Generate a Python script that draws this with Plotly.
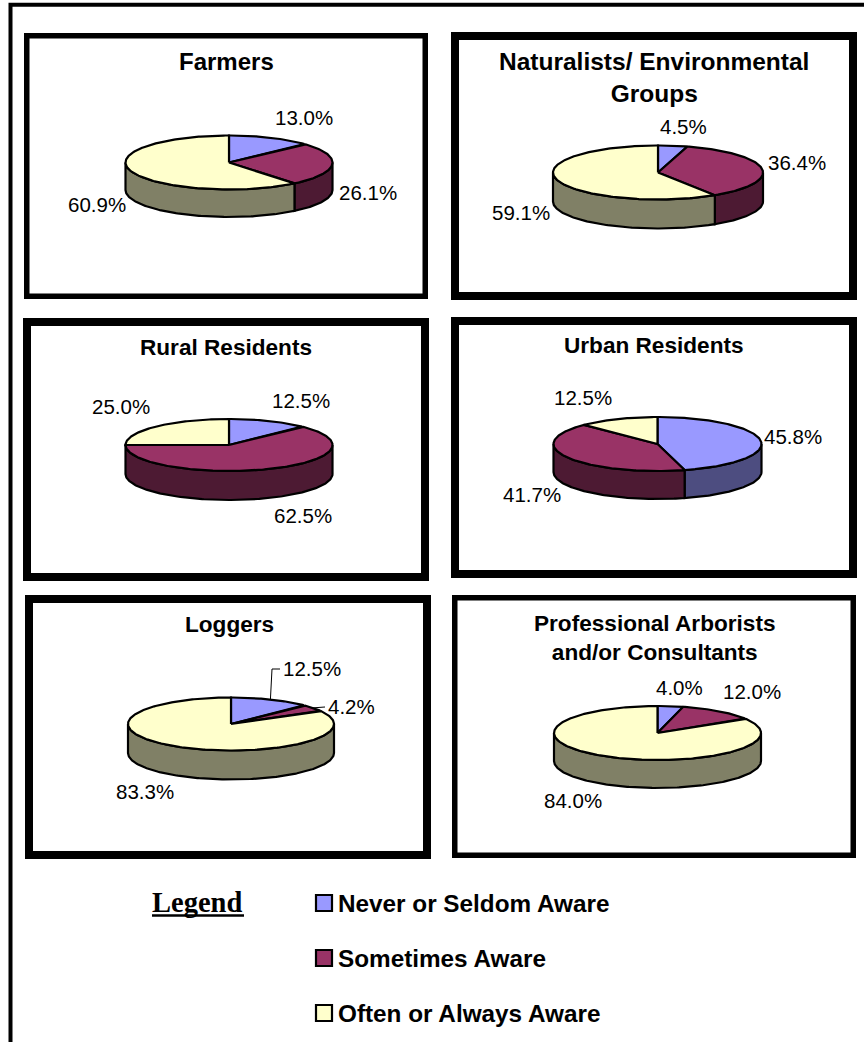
import numpy as np
import plotly.graph_objects as go

# awareness shares per group, in legend order
categories = ["Never or Seldom Aware", "Sometimes Aware", "Often or Always Aware"]
farmers = [13.0, 26.1, 60.9]
naturalists = [4.5, 36.4, 59.1]
rural = [12.5, 62.5, 25.0]
urban = [45.8, 41.7, 12.5]
loggers = [12.5, 4.2, 83.3]
arborists = [4.0, 12.0, 84.0]
titles = ["Farmers", "Naturalists/ Environmental<br>Groups", "Rural Residents",
          "Urban Residents", "Loggers", "Professional Arborists<br>and/or Consultants"]
series = [farmers, naturalists, rural, urban, loggers, arborists]

top_colors = ["#9999FF", "#993366", "#FFFFCC"]
side_colors = ["#4D4D80", "#4D1A33", "#808066"]
FONT = "Liberation Sans"

# page layout, in pixels
frames = [(24, 33, 428, 299, 5.5), (451, 32, 857, 300, 8), (23, 318, 429, 581, 8),
          (451, 317, 857, 578, 8), (25, 595, 431, 859, 8), (452, 595, 856, 858, 5.5)]
pies = [(229, 162.5, 103.5, 27, 27.5), (658, 172.5, 105, 27, 29), (229, 445, 103.5, 26, 29),
        (657.5, 444, 104, 27, 28), (231, 724, 103, 26.5, 29), (657.5, 733, 103.5, 27, 28)]
title_pos = [(226, 61.5, 24), (654, 77.5, 24.5), (226, 347, 22.6), (654, 345, 22.6), (229, 624, 22.6), (654, 638, 22.6)]
label_pos = [[(304, 117), (368, 192), (97, 204)],
             [(683, 126), (797, 162), (521, 212)],
             [(301, 400), (303, 515), (121, 406)],
             [(793, 436), (532, 494), (583, 397)],
             [(312, 668), (351, 706), (145, 791)],
             [(679, 687), (752, 691), (573, 800)]]


def arc(cx, cy, rx, ry, a0, a1):
    # angles are degrees clockwise from the top of the ellipse
    t = np.radians(np.linspace(a0, a1, max(int(abs(a1 - a0)), 2) + 1))
    return cx + rx * np.sin(t), cy - ry * np.cos(t)


fig = go.Figure()


def add_poly(xs, ys, color):
    fig.add_trace(go.Scatter(x=xs, y=ys, mode="lines", fill="toself", fillcolor=color,
                             line=dict(color="black", width=2.2), hoverinfo="skip"))


for values, (cx, cy, rx, ry, depth) in zip(series, pies):
    edges = np.cumsum([0] + values) * 3.6
    # side walls first, only the front half of the rim shows
    for i in range(3):
        a0, a1 = max(edges[i], 90), min(edges[i + 1], 270)
        if a1 > a0:
            ax, ay = arc(cx, cy, rx, ry, a0, a1)
            add_poly(np.r_[ax, ax[::-1], ax[0]], np.r_[ay, ay[::-1] + depth, ay[0]], side_colors[i])
    for i in range(3):
        ax, ay = arc(cx, cy, rx, ry, edges[i], edges[i + 1])
        add_poly(np.r_[cx, ax, cx], np.r_[cy, ay, cy], top_colors[i])

# leader lines on the Loggers pie start at the slice middles
cx, cy, rx, ry, depth = pies[4]
edges = np.cumsum([0] + loggers) * 3.6
for i, (ex, ey) in enumerate([(272, 669), (325, 707)]):
    mx, my = arc(cx, cy, rx, ry, (edges[i] + edges[i + 1]) / 2, (edges[i] + edges[i + 1]) / 2)
    lx = [mx[0], ex, ex + 8] if i == 0 else [mx[0], ex]
    ly = [my[0], ey, ey] if i == 0 else [my[0], ey]
    fig.add_trace(go.Scatter(x=lx, y=ly, mode="lines", line=dict(color="black", width=1), hoverinfo="skip"))

annotations = []


def add_text(x, y, text, size, bold=False, family=FONT, anchor="center"):
    label = f"<b>{text}</b>" if bold else text
    annotations.append(dict(x=x, y=y, xref="x", yref="y", text=label, showarrow=False, xanchor=anchor,
                            yanchor="middle", font=dict(family=family, size=size, color="black")))


for title, (tx, ty, tsize) in zip(titles, title_pos):
    add_text(tx, ty, title, tsize, bold=True)
for values, positions in zip(series, label_pos):
    for v, (lx, ly) in zip(values, positions):
        add_text(lx, ly, f"{v:.1f}%", 20.5)

shapes = [dict(type="path", path="M 10.5 1042 L 10.5 4.7 L 864 4.7", line=dict(color="black", width=4))]
for x0, y0, x1, y1, w in frames:
    shapes.append(dict(type="rect", x0=x0 + w / 2, y0=y0 + w / 2, x1=x1 - w / 2, y1=y1 - w / 2,
                       line=dict(color="black", width=w), fillcolor="white", layer="below"))

# hand-placed legend block, as in the original page
add_text(197, 902, "Legend", 28.5, bold=True, family="Liberation Serif")
shapes.append(dict(type="line", x0=152, x1=244, y0=915.5, y1=915.5, line=dict(color="black", width=2.5)))
for name, color, ly in zip(categories, top_colors, [903, 958, 1013]):
    shapes.append(dict(type="rect", x0=316, x1=332, y0=ly - 8, y1=ly + 8, fillcolor=color,
                       line=dict(color="black", width=2.2)))
    add_text(335.5, ly, name, 24.3, bold=True, anchor="left")

fig.update_layout(
    width=864,
    height=1042,
    showlegend=False,
    margin=dict(l=0, r=0, t=0, b=0),
    paper_bgcolor="white",
    plot_bgcolor="white",
    xaxis=dict(range=[0, 864], visible=False, fixedrange=True),
    yaxis=dict(range=[1042, 0], visible=False, fixedrange=True),
    shapes=shapes,
    annotations=annotations,
)

fig.write_html("out.html", config=dict(displayModeBar=False), post_script="document.body.style.margin='0';")
